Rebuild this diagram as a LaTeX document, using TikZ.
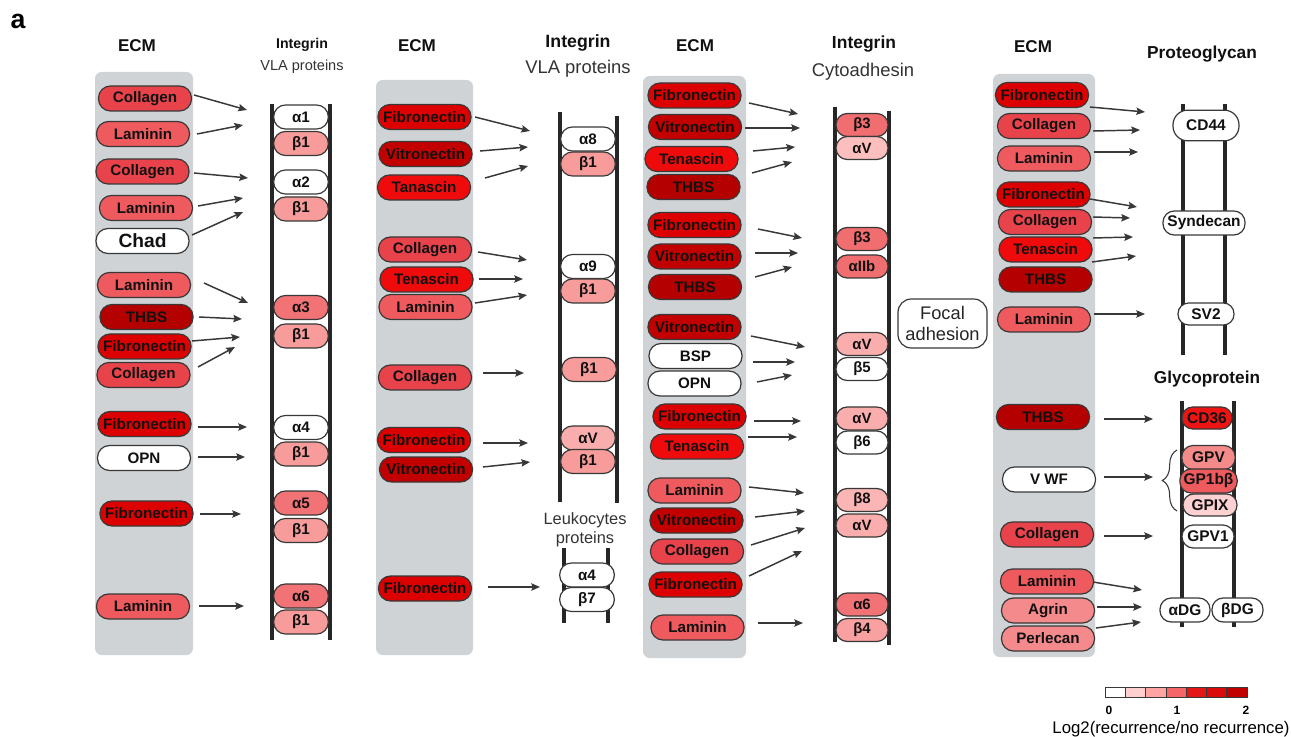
\documentclass[tikz,border=0pt]{standalone}
\usepackage{fontspec}
\setmainfont{Liberation Sans}
\usetikzlibrary{arrows.meta,decorations.pathreplacing}
\definecolor{bd}{HTML}{383838}
\definecolor{rail}{HTML}{262626}
\definecolor{txt}{HTML}{111111}
\definecolor{boxg}{HTML}{D0D3D6}
\definecolor{colCol}{HTML}{E8434A}
\definecolor{colLam}{HTML}{EE5A5E}
\definecolor{colFib}{HTML}{DD0000}
\definecolor{colTen}{HTML}{EF0B0B}
\definecolor{colVit}{HTML}{C20000}
\definecolor{colTHB}{HTML}{B50000}
\definecolor{colBa}{HTML}{F89B9B}
\definecolor{colAt}{HTML}{F27376}
\definecolor{colAVp}{HTML}{F9ADAD}
\definecolor{colBt}{HTML}{F06E70}
\definecolor{colAVl}{HTML}{FDBEBE}
\definecolor{colBe}{HTML}{FBB5B5}
\definecolor{colBf}{HTML}{F9A0A0}
\definecolor{colCD}{HTML}{EE1414}
\definecolor{colGPV}{HTML}{F58A8A}
\definecolor{colGPb}{HTML}{EE5A5E}
\definecolor{colGPIX}{HTML}{FDD0D2}
\definecolor{colAgr}{HTML}{F58A8D}
\definecolor{lgA}{HTML}{FFFFFF}
\definecolor{lgB}{HTML}{FFCFD0}
\definecolor{lgC}{HTML}{FFA3A3}
\definecolor{lgD}{HTML}{F46667}
\definecolor{lgE}{HTML}{E51616}
\definecolor{lgF}{HTML}{DC0B0B}
\definecolor{lgG}{HTML}{C10000}
\newcommand\myfs[1]{\fontsize{#1}{#1}\selectfont}
\newcommand\ecmpill[5]{\node[ecmp,fill=#4] (#1) at (#2,#3) {#5};}
\newcommand\ipill[6]{\node[#1,fill=#5] (#2) at (#3,#4) {#6};}
\newcommand\ecmarrow[5]{\coordinate (#1t) at (#4,#5);\draw[arr] (#1.center) ++(#2,#3) -- (#1t);}
\tikzset{
  ecmp/.style={draw=bd, line width=0.9pt, rounded corners=9pt, minimum width=69.75pt, minimum height=18.75pt, inner sep=0pt, text=txt, font=\bfseries\myfs{11.4}},
  intA/.style={draw=bd, line width=0.9pt, rounded corners=8.8pt, minimum width=41pt, minimum height=18pt, inner sep=0pt, text=txt, font=\bfseries\myfs{11.4}},
  intC/.style={draw=bd, line width=0.9pt, rounded corners=8.4pt, minimum width=39pt, minimum height=17.25pt, inner sep=0pt, text=txt, font=\bfseries\myfs{11.2}},
  gly/.style={draw=bd, line width=0.9pt, rounded corners=8.4pt, minimum height=17.5pt, inner sep=0pt, text=txt, font=\bfseries\myfs{11.6}},
  arr/.style={draw=bd, line width=1.1pt, -{Stealth[length=6.5pt,width=5.5pt,inset=1pt]}},
  railline/.style={draw=rail, line width=2.3pt},
  ecmbox/.style={fill=boxg, rounded corners=5pt},
  hdr/.style={inner sep=0pt, text=txt, font=\bfseries\myfs{12.8}},
  sub/.style={inner sep=0pt, text=black!80, font=\myfs{13.8}},
  lgbox/.style={draw=bd, line width=0.6pt}
}
\begin{document}
\begin{tikzpicture}[x=0.75pt,y=-0.75pt]
\fill[white] (0,0) rectangle (1291,737);
\useasboundingbox (0,0) rectangle (1291,737);

\node[inner sep=0pt, font=\bfseries\myfs{20}] (lbl) at (18,21) {a};

% ---------- gray ECM boxes ----------
\fill[ecmbox] (95,72) rectangle (193,655);
\fill[ecmbox] (376,80) rectangle (473,655);
\fill[ecmbox] (643,76) rectangle (746,658);
\fill[ecmbox] (993,74) rectangle (1095,657);

% ---------- headers ----------
\node[hdr] (h1) at (137,46) {ECM};
\node[inner sep=0pt, text=txt, font=\bfseries\myfs{10.6}] (h1i) at (302,45) {Integrin};
\node[inner sep=0pt, text=black!80, font=\myfs{10.9}] (h1v) at (302,67) {VLA proteins};
\node[hdr] (h2) at (417,46) {ECM};
\node[inner sep=0pt, text=txt, font=\bfseries\myfs{13.3}] (h2i) at (578,43) {Integrin};
\node[sub] (h2v) at (578,69) {VLA proteins};
\node[hdr] (h3) at (695,46) {ECM};
\node[inner sep=0pt, text=txt, font=\bfseries\myfs{13.1}] (h3i) at (864,44) {Integrin};
\node[sub] (h3v) at (863,72) {Cytoadhesin};
\node[hdr] (h4) at (1033,47) {ECM};
\node[inner sep=0pt, text=txt, font=\bfseries\myfs{13}] (h4p) at (1202,54) {Proteoglycan};
\node[inner sep=0pt, text=txt, font=\bfseries\myfs{12.9}] (h4g) at (1207,379) {Glycoprotein};
\node[inner sep=0pt, text=black!80, font=\myfs{12.3}] (leu1) at (585,520) {Leukocytes};
\node[inner sep=0pt, text=black!80, font=\myfs{12.3}] (leu2) at (585,539) {proteins};

% ---------- rails ----------
\draw[railline] (272,104) -- (272,640);
\draw[railline] (330,104) -- (330,640);
\draw[railline] (560,112) -- (560,502);
\draw[railline] (617,116) -- (617,503);
\draw[railline] (564,548) -- (564,623);
\draw[railline] (608,548) -- (608,623);
\draw[railline] (835,107) -- (835,642);
\draw[railline] (889,111) -- (889,645);
\draw[railline] (1183,104) -- (1183,355);
\draw[railline] (1225,104) -- (1225,355);
\draw[railline] (1182,401) -- (1182,627);
\draw[railline] (1234,401) -- (1234,627);

% ---------- panel 1 ----------
\ecmpill{A1}{145}{98.5}{colCol}{Collagen}
\ecmpill{A2}{143}{134}{colLam}{Laminin}
\ecmpill{A3}{142.5}{171.5}{colCol}{Collagen}
\ecmpill{A4}{146}{208}{colLam}{Laminin}
\node[ecmp,fill=white,font=\bfseries\myfs{14.4}] (A5) at (142.5,241) {Chad};
\ecmpill{A6}{144}{285}{colLam}{Laminin}
\ecmpill{A7}{146.5}{317}{colTHB}{THBS}
\ecmpill{A8}{144.5}{346.5}{colFib}{Fibronectin}
\ecmpill{A9}{143.5}{375}{colCol}{Collagen}
\ecmpill{A10}{144.5}{424}{colFib}{Fibronectin}
\ecmpill{A11}{144}{458}{white}{OPN}
\ecmpill{A12}{146.5}{513.5}{colFib}{Fibronectin}
\ecmpill{A13}{143}{606.5}{colLam}{Laminin}

\ipill{intA}{I1}{301}{117}{white}{α1}
\ipill{intA}{I2}{301}{143.5}{colBa}{β1}
\ipill{intA}{I3}{301}{182}{white}{α2}
\ipill{intA}{I4}{301}{209}{colBa}{β1}
\ipill{intA}{I5}{301}{307.5}{colAt}{α3}
\ipill{intA}{I6}{301}{336}{colBa}{β1}
\ipill{intA}{I7}{301}{427.5}{white}{α4}
\ipill{intA}{I8}{301}{454}{colBa}{β1}
\ipill{intA}{I9}{301}{503}{colAt}{α5}
\ipill{intA}{I10}{301}{530.5}{colBa}{β1}
\ipill{intA}{I11}{301}{596}{colAt}{α6}
\ipill{intA}{I12}{301}{622}{colBa}{β1}

\ecmarrow{A1}{49}{-3.5}{247}{110}
\ecmarrow{A2}{54}{0}{243}{125}
\ecmarrow{A3}{51.5}{1.5}{248}{178}
\ecmarrow{A4}{52}{-2}{243}{198}
\ecmarrow{A5}{49.5}{-6}{243}{212}
\ecmarrow{A6}{60}{-2}{248}{303}
\ecmarrow{A7}{52.5}{0}{242}{319}
\ecmarrow{A8}{47.5}{-5.5}{240}{337}
\ecmarrow{A9}{54.5}{-8}{235}{347}
\ecmarrow{A10}{53.5}{3}{247}{427}
\ecmarrow{A11}{54}{-1}{245}{457}
\ecmarrow{A12}{53.5}{0.5}{241}{514}
\ecmarrow{A13}{56}{-0.5}{244}{606}

% ---------- panel 2 ----------
\ecmpill{B1}{424.5}{117}{colFib}{Fibronectin}
\ecmpill{B2}{425.5}{154}{colVit}{Vitronectin}
\ecmpill{B3}{424}{187.5}{colTen}{Tanascin}
\ecmpill{B4}{425}{249.5}{colCol}{Collagen}
\ecmpill{B5}{426.5}{279.5}{colTen}{Tenascin}
\ecmpill{B6}{425.5}{307}{colLam}{Laminin}
\ecmpill{B7}{425}{377.5}{colCol}{Collagen}
\ecmpill{B8}{424}{440}{colFib}{Fibronectin}
\ecmpill{B9}{426}{469.5}{colVit}{Vitronectin}
\ecmpill{B10}{425}{588.5}{colFib}{Fibronectin}

\ipill{intA}{J1}{588}{139}{white}{α8}
\ipill{intA}{J2}{588}{164}{colBa}{β1}
\ipill{intA}{J3}{588}{266.5}{white}{α9}
\ipill{intA}{J4}{588}{291}{colBa}{β1}
\ipill{intA}{J5}{589}{369.5}{colBa}{β1}
\ipill{intA}{J6}{588}{438}{colAVp}{αV}
\ipill{intA}{J7}{588}{461.5}{colBa}{β1}
\ipill{intA}{J8}{587}{575}{white}{α4}
\ipill{intA}{J9}{587}{599.5}{white}{β7}

\ecmarrow{B1}{50.5}{0}{530}{131}
\ecmarrow{B2}{54.5}{-3}{528}{147}
\ecmarrow{B3}{61}{-9.5}{528}{166}
\ecmarrow{B4}{53}{2.5}{527}{260}
\ecmarrow{B5}{52.5}{-0.5}{523}{279}
\ecmarrow{B6}{49.5}{-4}{527}{295}
\ecmarrow{B7}{58}{-4.5}{524}{373}
\ecmarrow{B8}{59}{3}{528}{443}
\ecmarrow{B9}{57}{-2.5}{530}{462}
\ecmarrow{B10}{63}{-1.5}{540}{587}

% ---------- panel 3 ----------
\ecmpill{C1}{694.5}{95.5}{colFib}{Fibronectin}
\ecmpill{C2}{695}{127}{colVit}{Vitronectin}
\ecmpill{C3}{691.5}{159}{colTen}{Tenascin}
\ecmpill{C4}{693.5}{187}{colTHB}{THBS}
\ecmpill{C5}{694.5}{225}{colFib}{Fibronectin}
\ecmpill{C6}{694.5}{256.5}{colVit}{Vitronectin}
\ecmpill{C7}{695}{287}{colTHB}{THBS}
\ecmpill{C8}{694.5}{327}{colVit}{Vitronectin}
\ecmpill{C9}{695.5}{356}{white}{BSP}
\ecmpill{C10}{694.5}{383.5}{white}{OPN}
\ecmpill{C11}{699.5}{416.5}{colFib}{Fibronectin}
\ecmpill{C12}{697}{446.5}{colTen}{Tenascin}
\ecmpill{C13}{694.5}{490.5}{colLam}{Laminin}
\ecmpill{C14}{696.5}{520.5}{colVit}{Vitronectin}
\ecmpill{C15}{697}{551.5}{colCol}{Collagen}
\ecmpill{C16}{695.5}{584.5}{colFib}{Fibronectin}
\ecmpill{C17}{697.5}{627.5}{colLam}{Laminin}

\ipill{intC}{K1}{862}{125}{colBt}{β3}
\ipill{intC}{K2}{862}{148}{colAVl}{αV}
\ipill{intC}{K3}{862}{239}{colBt}{β3}
\ipill{intC}{K4}{862}{266.5}{colBt}{αIIb}
\ipill{intC}{K5}{862}{344}{colAVp}{αV}
\ipill{intC}{K6}{862}{369}{white}{β5}
\ipill{intC}{K7}{862}{418.5}{colAVp}{αV}
\ipill{intC}{K8}{862}{442.5}{white}{β6}
\ipill{intC}{K9}{862}{500}{colBe}{β8}
\ipill{intC}{K10}{862}{525.5}{colAVp}{αV}
\ipill{intC}{K11}{862}{604.5}{colAt}{α6}
\ipill{intC}{K12}{862}{630}{colBf}{β4}

\ecmarrow{C1}{54.5}{7.5}{798}{114}
\ecmarrow{C2}{50}{1}{800}{128}
\ecmarrow{C3}{61.5}{-8}{795}{147}
\ecmarrow{C4}{58.5}{-14}{792}{162}
\ecmarrow{C5}{63.5}{4}{802}{238}
\ecmarrow{C6}{60.5}{-3.5}{798}{253}
\ecmarrow{C7}{60}{-10}{792}{267}
\ecmarrow{C8}{56.5}{9}{805}{347}
\ecmarrow{C9}{57.5}{6}{795}{362}
\ecmarrow{C10}{62.5}{-1.5}{792}{375}
\ecmarrow{C11}{54.5}{4.5}{801}{421}
\ecmarrow{C12}{51}{-9.5}{797}{437}
\ecmarrow{C13}{54.5}{-3.5}{804}{493}
\ecmarrow{C14}{58.5}{-3.5}{805}{511}
\ecmarrow{C15}{54}{-6.5}{805}{528}
\ecmarrow{C16}{53.5}{-8.5}{802}{551}
\ecmarrow{C17}{60.5}{-4.5}{803}{623}

\node[draw=bd, line width=0.9pt, rounded corners=10pt, minimum width=66.75pt, minimum height=36.75pt, inner sep=0pt, align=center, text=black!85, font=\fontsize{13.7}{15.8}\selectfont] (fa) at (942.5,323.5) {Focal\\adhesion};

% ---------- panel 4 ----------
\ecmpill{D1}{1042}{95}{colFib}{Fibronectin}
\ecmpill{D2}{1044}{126}{colCol}{Collagen}
\ecmpill{D3}{1044}{158.5}{colLam}{Laminin}
\ecmpill{D4}{1043.5}{194.5}{colFib}{Fibronectin}
\ecmpill{D5}{1045}{222}{colCol}{Collagen}
\ecmpill{D6}{1045.5}{249.5}{colTen}{Tenascin}
\ecmpill{D7}{1045.5}{279.5}{colTHB}{THBS}
\ecmpill{D8}{1044}{319.5}{colLam}{Laminin}
\ecmpill{D9}{1043}{417}{colTHB}{THBS}
\ecmpill{D10}{1049}{479.5}{white}{V WF}
\ecmpill{D11}{1047}{534.5}{colCol}{Collagen}
\ecmpill{D12}{1047}{581.5}{colLam}{Laminin}
\ecmpill{D13}{1048}{610.5}{colAgr}{Agrin}
\ecmpill{D14}{1048}{638.5}{colAgr}{Perlecan}

\node[gly,fill=white,minimum width=49.5pt,minimum height=23pt,rounded corners=11pt] (P1) at (1206,125.5) {CD44};
\node[gly,fill=white,minimum width=61.5pt,minimum height=18pt] (P2) at (1204,223) {Syndecan};
\node[gly,fill=white,minimum width=42pt,minimum height=16.5pt,rounded corners=8pt] (P3) at (1206,314) {SV2};

\node[gly,fill=colCD,minimum width=37.5pt,minimum height=16.5pt,rounded corners=8pt] (G1) at (1207,418) {CD36};
\node[gly,fill=colGPV,minimum width=40pt,minimum height=18pt] (G2) at (1208.5,457.5) {GPV};
\node[gly,fill=colGPb,minimum width=43pt,minimum height=18pt] (G3) at (1208.5,481) {GP1bβ};
\node[gly,fill=colGPIX,minimum width=40.5pt,minimum height=16.5pt,rounded corners=8pt] (G4) at (1210,505) {GPIX};
\node[gly,fill=white,minimum width=39pt,minimum height=17.25pt] (G5) at (1208,536.5) {GPV1};
\node[gly,fill=white,minimum width=37.5pt,minimum height=18pt] (G6) at (1185,610) {αDG};
\node[gly,fill=white,minimum width=38.25pt,minimum height=18pt] (G7) at (1237.5,610) {βDG};

\draw[draw=bd, line width=0.8pt, decorate, decoration={brace, amplitude=11pt}] (1177,511) -- (1177,450);

\ecmarrow{D1}{48}{12}{1145}{112}
\ecmarrow{D2}{49}{5}{1140}{130}
\ecmarrow{D3}{50}{-6.5}{1138}{152}
\ecmarrow{D4}{46.5}{4.5}{1137}{207}
\ecmarrow{D5}{48}{-5}{1130}{218}
\ecmarrow{D6}{47.5}{-11.5}{1133}{237}
\ecmarrow{D7}{46.5}{-17.5}{1136}{256}
\ecmarrow{D8}{50}{-5.5}{1145}{314}
\ecmarrow{D9}{61}{2}{1153}{419}
\ecmarrow{D10}{55}{-2.5}{1153}{477}
\ecmarrow{D11}{57}{1.5}{1153}{536}
\ecmarrow{D12}{46}{0.5}{1142}{590}
\ecmarrow{D13}{49}{-3.5}{1142}{607}
\ecmarrow{D14}{48}{-10.5}{1141}{622}

% ---------- legend ----------
\foreach \c [count=\i from 0] in {lgA,lgB,lgC,lgD,lgE,lgF,lgG}{
  \filldraw[lgbox,fill=\c] (1105+\i*20.3,687) rectangle (1105+\i*20.3+20.3,697);
}
\node[inner sep=0pt, font=\bfseries\myfs{9}] (l0) at (1109,710) {0};
\node[inner sep=0pt, font=\bfseries\myfs{9}] (l1) at (1177,710) {1};
\node[inner sep=0pt, font=\bfseries\myfs{9}] (l2) at (1246,710) {2};
\node[inner sep=0pt, font=\myfs{12.6}] (lt) at (1171,729) {Log2(recurrence/no recurrence)};
\end{tikzpicture}
\end{document}
